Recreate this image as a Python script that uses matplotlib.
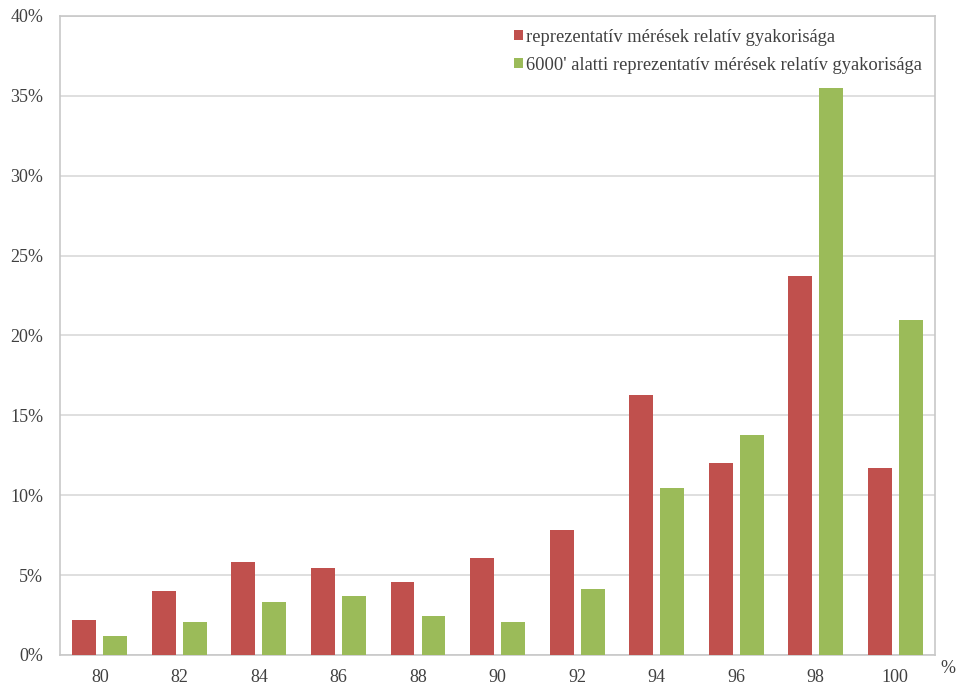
import matplotlib
matplotlib.use("Agg")
import matplotlib.pyplot as plt
import numpy as np
from matplotlib.ticker import FuncFormatter

categories = ["80", "82", "84", "86", "88", "90", "92", "94", "96", "98", "100"]
representative = [2.2, 4.0, 5.8, 5.45, 4.55, 6.1, 7.8, 16.25, 12.0, 23.7, 11.7]
below_6000 = [1.2, 2.05, 3.3, 3.7, 2.45, 2.05, 4.1, 10.45, 13.8, 35.5, 20.95]
series_labels = ["reprezentatív mérések relatív gyakorisága",
                 "6000' alatti reprezentatív mérések relatív gyakorisága"]

plt.rcParams["font.family"] = ["Liberation Serif", "DejaVu Serif"]

fig = plt.figure(figsize=(9.66, 6.86), dpi=100)
ax = fig.add_axes([0.0621, 0.0452, 0.9059, 0.9315])

x = np.arange(len(categories))
w = 0.30
off = 0.195
ax.bar(x - off, representative, w, color="#C0504D", label=series_labels[0], zorder=3)
ax.bar(x + off, below_6000, w, color="#9BBB59", label=series_labels[1], zorder=3)

ax.set_xlim(-0.5, len(categories) - 0.5)
ax.set_ylim(0, 40)
ax.set_yticks(np.arange(0, 41, 5))
ax.yaxis.set_major_formatter(FuncFormatter(lambda v, p: f"{v:.0f}%"))
ax.set_xticks(x)
ax.set_xticklabels(categories)
ax.grid(axis="y", color="#d9d9d9", linewidth=1.2, zorder=0)
ax.tick_params(axis="both", length=0, labelsize=13, colors="#404040")
ax.tick_params(axis="x", pad=10)
ax.tick_params(axis="y", pad=12)
for s in ax.spines.values():
    s.set_color("#c8c8c8")
    s.set_linewidth(1.2)

ax.text(1.006, -0.008, "%", transform=ax.transAxes, fontsize=13,
        color="#404040", ha="left", va="top")

ax.legend(loc="upper right", frameon=False, fontsize=13.3,
          handlelength=0.45, handleheight=0.45, handletextpad=0.2,
          labelspacing=0.6, borderaxespad=0.3, labelcolor="#404040")

fig.savefig("out.png", dpi=100, facecolor="white")
